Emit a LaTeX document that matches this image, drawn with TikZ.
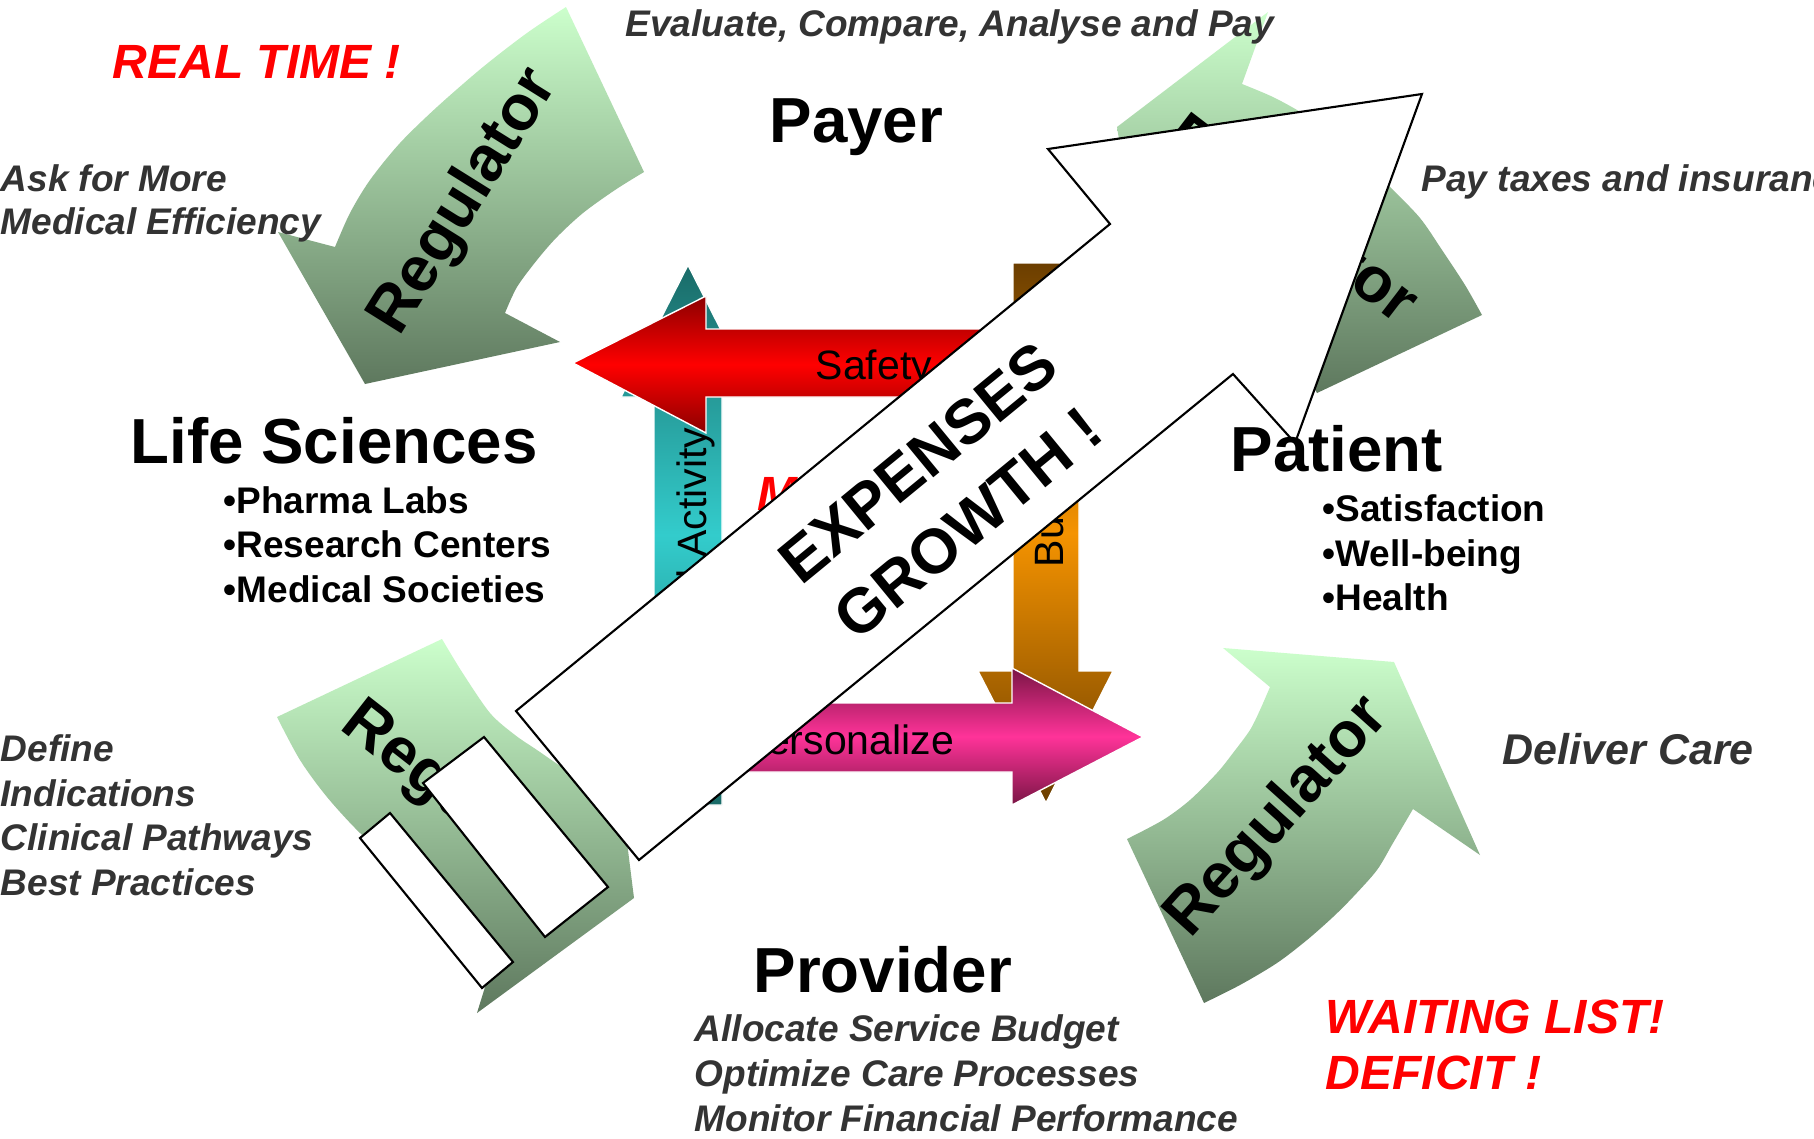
\documentclass[tikz,border=0pt]{standalone}
\usepackage{fontspec}
\setmainfont{Liberation Sans}
\definecolor{gtop}{HTML}{CCFFCC}
\definecolor{gbot}{HTML}{5E785E}
\definecolor{txtgray}{HTML}{333333}
\definecolor{tealdark}{HTML}{1A6B68}
\definecolor{tealmid}{HTML}{33CCCC}
\definecolor{orgdark}{HTML}{6B3E00}
\definecolor{orgmid}{HTML}{F59300}
\definecolor{reddark}{HTML}{8B0000}
\definecolor{redmid}{HTML}{FF0000}
\definecolor{pinkdark}{HTML}{7A1545}
\definecolor{pinkmid}{HTML}{FF3399}
\definecolor{alertred}{HTML}{FF0000}
\newcommand\myfs[1]{\fontsize{#1}{#1}\selectfont}
\tikzset{
  greenarrow/.style={top color=gtop, bottom color=gbot},
  ctrarrow/.style={draw=white, line width=0.4pt},
  whiteshape/.style={fill=white, draw=black, line width=0.6pt, line join=miter},
  lbl/.style={inner sep=0pt, anchor=base west},
  desc/.style={lbl, text=txtgray, font=\myfs{10.53pt}\bfseries\itshape},
  alert/.style={lbl, text=alertred, font=\myfs{13.66pt}\bfseries\itshape},
  big/.style={lbl, font=\myfs{18.1pt}\bfseries},
  bullet/.style={lbl, font=\myfs{10.53pt}\bfseries},
  ctrlbl/.style={inner sep=0pt, font=\myfs{11.66pt}},
  reglbl/.style={inner sep=0pt, font=\myfs{18.2pt}\bfseries}
}
\begin{document}
\begin{tikzpicture}[x=0.01cm,y=-0.01cm]
\useasboundingbox (0,0) rectangle (1814,1139);
\clip (0,0) rectangle (1814,1139);
\fill[white] (0,0) rectangle (1814,1139);

% ---- green regulator arrows ----
% top-left
\shade[greenarrow] (566,7) -- (644,172)
  -- plot[smooth] coordinates {(644,172) (615,190) (583,213) (557,237) (537,260) (517,287) (505,313)}
  -- (560,342) -- (365,384) -- (278,232) -- (335,247)
  -- plot[smooth] coordinates {(335,247) (350,213) (370,180) (400,143) (437,107) (483,67) (527,33) (566,7)}
  -- cycle;
\node[reglbl, rotate=58] (reg1) at (465,202) {Regulator};

% top-right
\shade[greenarrow] (1482,315) -- (1317,393)
  -- plot[smooth] coordinates {(1317,393) (1299,364) (1276,332) (1252,306) (1229,286) (1202,266) (1176,254)}
  -- (1147,309) -- (1117,127) -- (1268,12) -- (1242,84)
  -- plot[smooth] coordinates {(1242,84) (1275,98) (1310,118) (1350,148) (1390,187) (1420,218) (1442,250) (1465,285) (1482,315)}
  -- cycle;
\node[reglbl, rotate=-37.5] (reg2) at (1290,222) {Regulator};

% bottom-right
\shade[greenarrow] (1204,1003) -- (1127,839)
  -- plot[smooth] coordinates {(1127,839) (1163,820) (1190,800) (1217,773) (1233,753) (1250,730) (1260,710) (1270,687)}
  -- (1223,648) -- (1394,662) -- (1480,855) -- (1413,809)
  -- plot[smooth] coordinates {(1413,809) (1393,843) (1377,870) (1353,897) (1333,917) (1307,940) (1277,963) (1240,985) (1204,1003)}
  -- cycle;
\node[reglbl, rotate=48] (reg3) at (1278,818) {Regulator};

% bottom-left
\shade[greenarrow] (277,717) -- (442,639)
  -- plot[smooth] coordinates {(442,639) (462,672) (490,713) (515,735) (537,750) (562,767) (583,778)}
  -- (612,723) -- (634,898) -- (477,1013) -- (498,945)
  -- plot[smooth] coordinates {(498,945) (466,922) (432,895) (398,866) (360,833) (327,797) (300,760) (277,717)}
  -- cycle;
\node[reglbl, rotate=-38] (reg4) at (466,808) {Regulator};

% ---- centre cycle arrows ----
\shadedraw[ctrarrow, top color=tealdark, bottom color=tealdark, middle color=tealmid]
  (688,265) -- (755,397) -- (722,397) -- (722,805) -- (654,805) -- (654,397) -- (621,397) -- cycle;
\shadedraw[ctrarrow, top color=orgdark, bottom color=orgdark, middle color=orgmid]
  (1013,263) -- (1079,263) -- (1079,671) -- (1113,671) -- (1046,803) -- (978,671) -- (1013,671) -- cycle;
\shadedraw[ctrarrow, top color=reddark, bottom color=reddark, middle color=redmid]
  (573,363) -- (706,296) -- (706,329) -- (1046,329) -- (1046,397) -- (706,397) -- (706,433) -- cycle;
\shadedraw[ctrarrow, top color=pinkdark, bottom color=pinkdark, middle color=pinkmid]
  (688,703) -- (1012,703) -- (1012,668) -- (1143,737) -- (1012,805) -- (1012,772) -- (688,772) -- cycle;

\node[ctrlbl, rotate=90, anchor=base east] (act) at (706,427) {Medical Activity};
\node[ctrlbl, rotate=90, anchor=base west] (bud) at (1063,568) {Budget};
\node[ctrlbl, anchor=base west] (saf) at (815,379) {Safety};
\node[ctrlbl, anchor=base west] (per) at (739,754) {Personalize};
\node[alert] (mon) at (757,510) {MONEY};

% ---- big white arrow ----
\filldraw[whiteshape] (516,711) -- (1110,224) -- (1048,149) -- (1422,94) -- (1295,443) -- (1233,374) -- (639,860) -- cycle;
\node[inner sep=0pt, rotate=39.4, align=center, font=\fontsize{17.8pt}{22.5pt}\selectfont\bfseries] (exp) at (943,493) {EXPENSES\\GROWTH !};

% ---- white rectangles ----
\filldraw[whiteshape] (484,737) -- (608,887) -- (545,937) -- (423,783) -- cycle;
\filldraw[whiteshape] (390,813) -- (513,962) -- (482,988) -- (360,838) -- cycle;

% ---- labels ----
\node[alert] (rt) at (112,78) {REAL TIME !};
\node[desc] (eval) at (625,36) {Evaluate, Compare, Analyse and Pay};
\node[big] (payer) at (769,142) {Payer};
\node[desc] (ask1) at (0,191) {Ask for More};
\node[desc] (ask2) at (0,234) {Medical Efficiency};
\node[desc] (tax) at (1421,191) {Pay taxes and insurance};
\node[big] (life) at (130,463) {Life Sciences};
\node[bullet] (ls1) at (223,513) {•Pharma Labs};
\node[bullet] (ls2) at (223,557) {•Research Centers};
\node[bullet] (ls3) at (223,602) {•Medical Societies};
\node[big] (pat) at (1230,471) {Patient};
\node[bullet] (pa1) at (1322,521) {•Satisfaction};
\node[bullet] (pa2) at (1322,566) {•Well-being};
\node[bullet] (pa3) at (1322,610) {•Health};
\node[desc] (def1) at (0,761) {Define};
\node[desc] (def2) at (0,806) {Indications};
\node[desc] (def3) at (0,850) {Clinical Pathways};
\node[desc] (def4) at (0,895) {Best Practices};
\node[desc, font=\myfs{12.23pt}\bfseries\itshape] (dc) at (1502,764) {Deliver Care};
\node[big] (prov) at (753,992) {Provider};
\node[desc] (pr1) at (694,1041) {Allocate Service Budget};
\node[desc] (pr2) at (694,1086) {Optimize Care Processes};
\node[desc] (pr3) at (694,1131) {Monitor Financial Performance};
\node[alert] (wl) at (1325,1033) {WAITING LIST!};
\node[alert] (dfc) at (1325,1089) {DEFICIT !};
\end{tikzpicture}
\end{document}
